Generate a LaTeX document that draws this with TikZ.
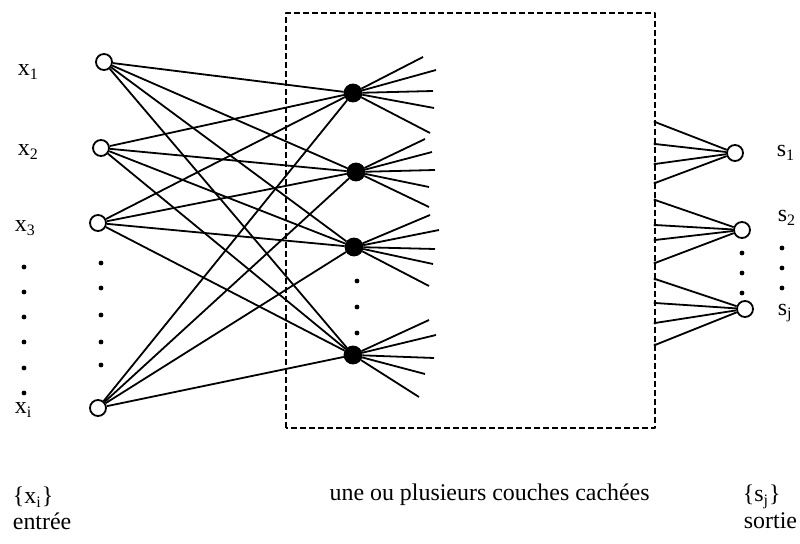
\documentclass[tikz,border=0pt]{standalone}
\usepackage{fontspec}
\setmainfont{Liberation Serif}
\usepackage{tikz}
\tikzset{
  entree/.style={draw,fill=white,circle,line width=0.9bp,inner sep=0pt,minimum size=8bp},
  cachee/.style={draw,fill=black,circle,inner sep=0pt,minimum size=8.5bp},
  pnt/.style={fill=black,circle,inner sep=0pt,minimum size=2.4bp},
  lab/.style={anchor=west,inner sep=0pt,font=\fontsize{12}{14}\selectfont},
}

\begin{document}
\begin{tikzpicture}[line join=bevel,line width=0.9bp]
\useasboundingbox (0bp,0bp) rectangle (400bp,272bp);
%%
\draw [dash pattern=on 3bp off 1.5bp,line width=0.6bp] (143.0bp,58.0bp) rectangle (327.5bp,265.5bp);
%%
\node (X1) at (52.0bp,241.0bp) [entree] {};
  \node (X2) at (50.5bp,198.0bp) [entree] {};
  \node (X3) at (49.0bp,160.5bp) [entree] {};
  \node (Xi) at (49.0bp,68.0bp) [entree] {};
  \node (H1) at (176.5bp,225.5bp) [cachee] {};
  \node (H2) at (178.0bp,186.0bp) [cachee] {};
  \node (H3) at (177.0bp,148.5bp) [cachee] {};
  \node (H4) at (176.5bp,94.5bp) [cachee] {};
  \node (S1) at (367.5bp,195.5bp) [entree] {};
  \node (S2) at (371.0bp,157.0bp) [entree] {};
  \node (Sj) at (372.5bp,117.5bp) [entree] {};
%
\node (lX1) at (8.5bp,236.0bp) [lab] {x\textsubscript{1}};
  \node (lX2) at (8.5bp,196.0bp) [lab] {x\textsubscript{2}};
  \node (lX3) at (7.0bp,158.0bp) [lab] {x\textsubscript{3}};
  \node (lXi) at (7.0bp,67.0bp) [lab] {x\textsubscript{i}};
  \node (lS1) at (388.0bp,195.5bp) [lab] {s\textsubscript{1}};
  \node (lS2) at (388.5bp,163.0bp) [lab] {s\textsubscript{2}};
  \node (lSj) at (388.5bp,115.5bp) [lab] {s\textsubscript{j}};
  \node (ensX) at (6.0bp,23.5bp) [lab] {\{x\textsubscript{i}\}};
  \node (ent) at (6.0bp,11.5bp) [lab] {entrée};
  \node (cach) at (244.8bp,24.5bp) [lab,anchor=center] {une ou plusieurs couches cachées};
  \node (ensS) at (371.0bp,23.5bp) [lab] {\{s\textsubscript{j}\}};
  \node (sor) at (371.5bp,11.5bp) [lab] {sortie};
%
\foreach \y [count=\k] in {138.5,126.0,113.5,101.0,88.0,75.5}
  \node (dL\k) at (12.0bp,\y bp) [pnt] {};
\foreach \y [count=\k] in {140.5,128.0,114.5,101.0,89.5}
  \node (dX\k) at (50.5bp,\y bp) [pnt] {};
\foreach \y [count=\k] in {131.5,118.5,105.5}
  \node (dH\k) at (178.5bp,\y bp) [pnt] {};
\foreach \y [count=\k] in {145.5,135.5,125.5}
  \node (dS\k) at (371.0bp,\y bp) [pnt] {};
\foreach \y [count=\k] in {148.0,138.0,128.0}
  \node (dR\k) at (391.0bp,\y bp) [pnt] {};
%% free ends
\coordinate (H1a) at (211.5bp,243.5bp); \coordinate (H1b) at (218.0bp,237.0bp); \coordinate (H1c) at (216.5bp,226.5bp);
  \coordinate (H1d) at (217.0bp,218.0bp); \coordinate (H1e) at (215.0bp,205.5bp);
  \coordinate (H2a) at (212.5bp,202.5bp); \coordinate (H2b) at (216.0bp,196.0bp); \coordinate (H2c) at (217.5bp,187.0bp);
  \coordinate (H2d) at (214.5bp,178.5bp); \coordinate (H2e) at (214.5bp,168.5bp);
  \coordinate (H3a) at (215.0bp,164.5bp); \coordinate (H3b) at (219.5bp,157.0bp); \coordinate (H3c) at (217.5bp,147.5bp);
  \coordinate (H3d) at (216.5bp,140.0bp); \coordinate (H3e) at (214.5bp,129.0bp);
  \coordinate (H4a) at (214.5bp,112.0bp); \coordinate (H4b) at (218.0bp,104.5bp); \coordinate (H4c) at (217.0bp,93.0bp);
  \coordinate (H4d) at (212.5bp,85.0bp); \coordinate (H4e) at (209.5bp,73.5bp);
  \coordinate (S1a) at (327.5bp,211.0bp); \coordinate (S1b) at (327.5bp,200.0bp); \coordinate (S1c) at (327.5bp,190.0bp);
  \coordinate (S1d) at (327.5bp,180.5bp);
  \coordinate (S2a) at (327.5bp,172.0bp); \coordinate (S2b) at (327.5bp,159.5bp); \coordinate (S2c) at (327.5bp,152.0bp);
  \coordinate (S2d) at (327.5bp,140.5bp);
  \coordinate (Sja) at (327.5bp,132.5bp); \coordinate (Sjb) at (327.5bp,120.5bp); \coordinate (Sjc) at (327.5bp,110.5bp);
  \coordinate (Sjd) at (327.5bp,99.5bp);
%% input layer to first hidden layer
\draw (X1) -- (H1); \draw (X1) -- (H2); \draw (X1) -- (H3); \draw (X1) -- (H4);
  \draw (X2) -- (H1); \draw (X2) -- (H2); \draw (X2) -- (H3); \draw (X2) -- (H4);
  \draw (X3) -- (H1); \draw (X3) -- (H2); \draw (X3) -- (H3); \draw (X3) -- (H4);
  \draw (Xi) -- (H1); \draw (Xi) -- (H2); \draw (Xi) -- (H3); \draw (Xi) -- (H4);
%% fan out
\draw (H1) -- (H1a); \draw (H1) -- (H1b); \draw (H1) -- (H1c); \draw (H1) -- (H1d); \draw (H1) -- (H1e);
  \draw (H2) -- (H2a); \draw (H2) -- (H2b); \draw (H2) -- (H2c); \draw (H2) -- (H2d); \draw (H2) -- (H2e);
  \draw (H3) -- (H3a); \draw (H3) -- (H3b); \draw (H3) -- (H3c); \draw (H3) -- (H3d); \draw (H3) -- (H3e);
  \draw (H4) -- (H4a); \draw (H4) -- (H4b); \draw (H4) -- (H4c); \draw (H4) -- (H4d); \draw (H4) -- (H4e);
%% last layer to output
\draw (S1a) -- (S1); \draw (S1b) -- (S1); \draw (S1c) -- (S1); \draw (S1d) -- (S1);
  \draw (S2a) -- (S2); \draw (S2b) -- (S2); \draw (S2c) -- (S2); \draw (S2d) -- (S2);
  \draw (Sja) -- (Sj); \draw (Sjb) -- (Sj); \draw (Sjc) -- (Sj); \draw (Sjd) -- (Sj);
\foreach \c in {S1a,S1b,S1c,S1d,S2a,S2b,S2c,S2d,Sja,Sjb,Sjc,Sjd}
  \fill (\c) circle (0.8bp);
%
\end{tikzpicture}
\end{document}
